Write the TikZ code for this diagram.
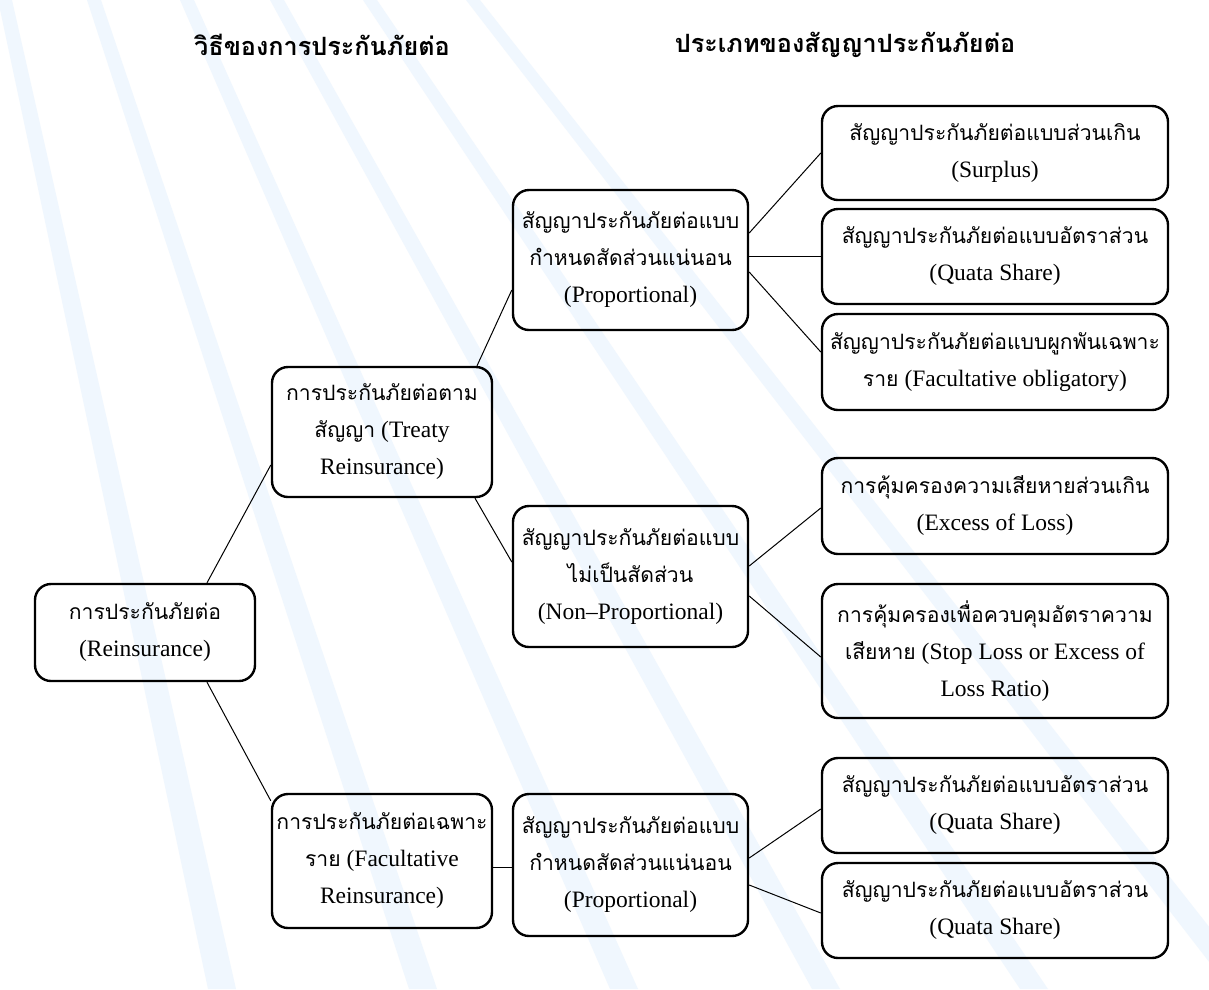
\documentclass[tikz,border=0pt]{standalone}
\usepackage{fontspec}
\usepackage{xcolor}
\usepackage{tikz}
\setmainfont{Liberation Serif}
\newfontfamily\thaifont[Script=Thai, Scale=0.9]{Loma}
\newcommand{\tha}[1]{{\thaifont #1}}
\definecolor{stripeblue}{RGB}{240,247,254}

\begin{document}
\begin{tikzpicture}[x=1pt, y=-1pt]
	\useasboundingbox (0,0) rectangle (1209,989);
	\fill[white] (0,0) rectangle (1209,989);
	
	% background stripes
	\begin{scope}
		\clip (0,0) rectangle (1209,989);
		\foreach \xt/\xb in {5/222, 94/423, 187/624, 277/826, 370/1034, 473/1244}
			\fill[stripeblue] (\xt-7,0) -- (\xt+7,0) -- (\xb+14,989) -- (\xb-14,989) -- cycle;
	\end{scope}
	
	\node[font=\thaifont\bfseries\fontsize{28}{32}\selectfont] (H1) at (322,45) {วิธีของการประกันภัยต่อ};
	\node[font=\thaifont\bfseries\fontsize{28}{32}\selectfont] (H2) at (845,45) {ประเภทของสัญญาประกันภัยต่อ};
	
	\begin{scope}[
		box/.style={draw, rounded corners=16pt, line width=2.4pt, align=center, inner sep=0pt, minimum width=220pt, font=\fontsize{23.5}{37}\selectfont},
		midbox/.style={box, minimum width=235pt},
		endbox/.style={box, minimum width=346pt}]
		\node[box, minimum height=97pt] (R) at (145,632.5) {\tha{การประกันภัยต่อ}\\(Reinsurance)};
		
		\node[box, minimum height=130pt] (T) at (382,432) {\tha{การประกันภัยต่อตาม}\\\tha{สัญญา} (Treaty\\Reinsurance)};
		\node[box, minimum height=134pt] (F) at (382,861) {\tha{การประกันภัยต่อเฉพาะ}\\\tha{ราย} (Facultative\\Reinsurance)};
		
		\node[midbox, minimum height=140pt] (P1) at (630.5,260) {\tha{สัญญาประกันภัยต่อแบบ}\\\tha{กำหนดสัดส่วนแน่นอน}\\(Proportional)};
		\node[midbox, minimum height=141pt] (NP) at (630.5,576.5) {\tha{สัญญาประกันภัยต่อแบบ}\\\tha{ไม่เป็นสัดส่วน}\\(Non--Proportional)};
		\node[midbox, minimum height=142pt] (P2) at (630.5,865) {\tha{สัญญาประกันภัยต่อแบบ}\\\tha{กำหนดสัดส่วนแน่นอน}\\(Proportional)};
		
		\node[endbox, minimum height=94pt] (C1) at (995,153) {\tha{สัญญาประกันภัยต่อแบบส่วนเกิน}\\(Surplus)};
		\node[endbox, minimum height=95pt] (C2) at (995,256.5) {\tha{สัญญาประกันภัยต่อแบบอัตราส่วน}\\(Quata Share)};
		\node[endbox, minimum height=96pt] (C3) at (995,362) {\tha{สัญญาประกันภัยต่อแบบผูกพันเฉพาะ}\\\tha{ราย} (Facultative obligatory)};
		\node[endbox, minimum height=96pt] (C4) at (995,506) {\tha{การคุ้มครองความเสียหายส่วนเกิน}\\(Excess of Loss)};
		\node[endbox, minimum height=134pt] (C5) at (995,651) {\tha{การคุ้มครองเพื่อควบคุมอัตราความ}\\\tha{เสียหาย} (Stop Loss or Excess of\\Loss Ratio)};
		\node[endbox, minimum height=95pt] (C6) at (995,805.5) {\tha{สัญญาประกันภัยต่อแบบอัตราส่วน}\\(Quata Share)};
		\node[endbox, minimum height=95pt] (C7) at (995,910.5) {\tha{สัญญาประกันภัยต่อแบบอัตราส่วน}\\(Quata Share)};
	\end{scope}
	
	\draw[-, line width=1pt] ([xshift=62pt]R.north) edge ([yshift=-33pt]T.west);
	\draw[-, line width=1pt] ([xshift=62pt]R.south) edge ([yshift=-8pt]F.north west);
	
	\draw[-, line width=1pt] ([xshift=95pt]T.north) edge ([yshift=-30pt]P1.west);
	\draw[-, line width=1pt] ([xshift=93pt]T.south) edge ([yshift=14.5pt]NP.west);
	\draw[-, line width=1pt] ([yshift=-6pt]F.east) edge ([yshift=-2pt]P2.west);
	
	\draw[-, line width=1pt] ([yshift=27pt]P1.east) edge (C1.west);
	\draw[-, line width=1pt] (P1.east |- C2.west) edge (C2.west);
	\draw[-, line width=1pt] ([yshift=-12pt]P1.east) edge ([yshift=10pt]C3.west);
	
	\draw[-, line width=1pt] ([yshift=10.5pt]NP.east) edge ([yshift=-2pt]C4.west);
	\draw[-, line width=1pt] ([yshift=-19.5pt]NP.east) edge ([yshift=-6pt]C5.west);
	
	\draw[-, line width=1pt] ([yshift=7pt]P2.east) edge ([yshift=-3.5pt]C6.west);
	\draw[-, line width=1pt] ([yshift=-20pt]P2.east) edge ([yshift=-2.5pt]C7.west);
\end{tikzpicture}
\end{document}
